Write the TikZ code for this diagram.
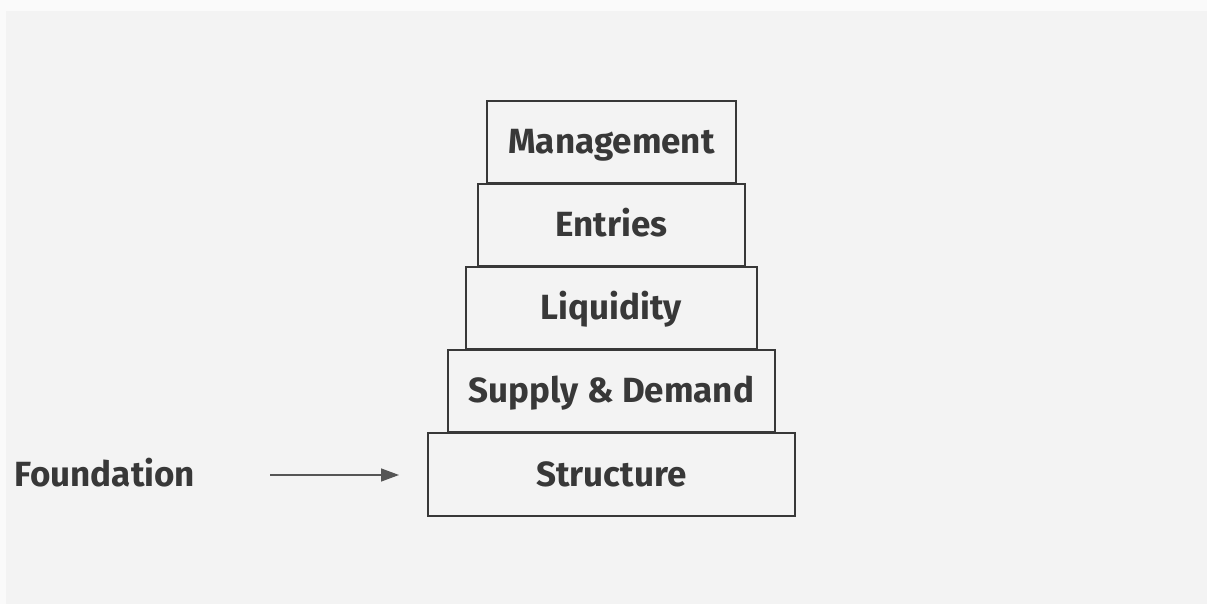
\documentclass[tikz,border=0pt]{standalone}
\usepackage{fontspec}
\setmainfont{Fira Sans}
\usetikzlibrary{arrows.meta}
\definecolor{pagebg}{HTML}{FAFAFA}
\definecolor{panelbg}{HTML}{F3F3F3}
\definecolor{ink}{HTML}{383838}
\definecolor{arrowink}{HTML}{555555}
\tikzset{
  boldtext/.style={text=ink, text height=12pt, text depth=0pt,
    font=\fontsize{17.5}{21}\selectfont\bfseries},
  layer/.style={boldtext, draw=ink, line width=1pt, minimum height=41pt, inner sep=0pt},
}
\begin{document}
\begin{tikzpicture}[x=0.5pt, y=-0.5pt]
  % background
  \fill[pagebg] (0,0) rectangle (1207,604);
  \fill[panelbg] (6,11) rectangle (1207,604);
  \useasboundingbox (0,0) rectangle (1207,604);

  % steps of the pyramid
  \node [layer, minimum width=124.5pt] (mgmt) at (611.5,142) {Management};
  \node [layer, minimum width=133.5pt] (entries) at (611.5,225) {Entries};
  \node [layer, minimum width=145.5pt] (liquidity) at (611.5,308) {Liquidity};
  \node [layer, minimum width=163.5pt] (supply) at (611.5,391) {Supply \& Demand};
  \node [layer, minimum width=183.5pt, minimum height=41.5pt] (structure) at (611.5,474.5) {Structure};

  % label on the left
  \node [boldtext, anchor=west, inner sep=0pt] (found) at (14,475) {Foundation};

  \draw [arrowink, line width=0.75pt, -{Triangle[length=9pt, width=6.5pt]}, shorten <=37.5pt, shorten >=14pt] (found.east) -- (found.east -| structure.west);
\end{tikzpicture}
\end{document}
